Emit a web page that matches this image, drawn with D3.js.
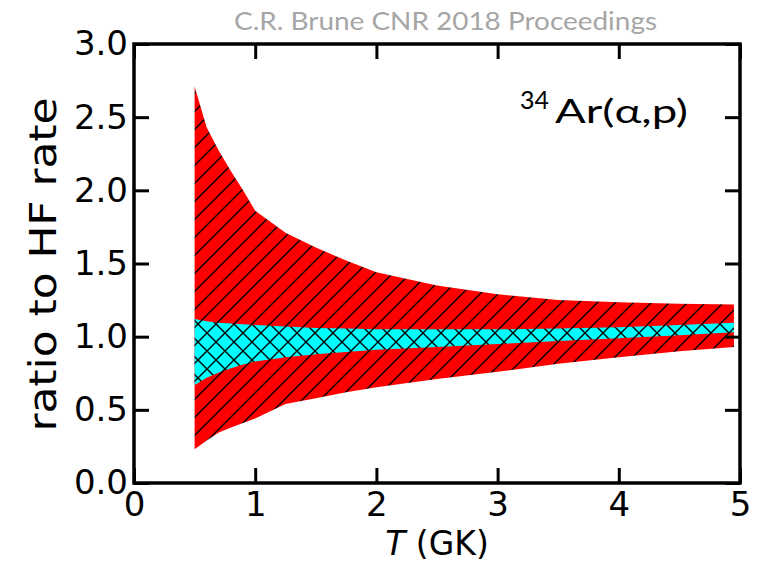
<!DOCTYPE html>
<html>
<head>
<meta charset="utf-8">
<script src="https://cdn.jsdelivr.net/npm/d3@7"></script>
<style>
  body { margin: 0; background: #fff; }
</style>
</head>
<body>
<div id="chart"></div>
<script>
// temperature grid (GK) and ratio bands
const temps     = [0.5, 0.6, 0.7, 0.8, 0.9, 1.0, 1.25, 1.5, 1.75, 2.0, 2.5, 3.0, 3.5, 4.0, 4.5, 4.95];
const redHigh   = [2.71, 2.43, 2.27, 2.13, 2.0, 1.86, 1.71, 1.61, 1.52, 1.44, 1.35, 1.29, 1.25, 1.235, 1.225, 1.22];
const redLow    = [0.23, 0.29, 0.345, 0.38, 0.41, 0.44, 0.54, 0.58, 0.62, 0.655, 0.71, 0.76, 0.815, 0.86, 0.90, 0.93];
const cyanHigh  = [1.12, 1.105, 1.095, 1.09, 1.085, 1.08, 1.07, 1.06, 1.055, 1.05, 1.05, 1.05, 1.055, 1.065, 1.08, 1.095];
const cyanLow   = [0.67, 0.72, 0.755, 0.785, 0.81, 0.83, 0.86, 0.88, 0.895, 0.91, 0.93, 0.95, 0.97, 0.99, 1.01, 1.03];
const xTicks = [0, 1, 2, 3, 4, 5];
const yTicks = [0, 0.5, 1.0, 1.5, 2.0, 2.5, 3.0];

const width = 770, height = 562;
const margin = { top: 44, right: 30, bottom: 79, left: 134 };

const svg = d3.select("#chart")
    .append("svg")
    .attr("width", width)
    .attr("height", height);

const x = d3.scaleLinear().domain([0, 5]).range([margin.left, width - margin.right]);
const y = d3.scaleLinear().domain([0, 3]).range([height - margin.bottom, margin.top]);

// hatch patterns, same grid so the lines line up
const defs = svg.append("defs");
const hs = 18;
const slash = `M-${hs/4},${hs/4} L${hs/4},-${hs/4} M0,${hs} L${hs},0 M${hs*0.75},${hs*1.25} L${hs*1.25},${hs*0.75}`;
const back  = `M-${hs/4},${hs*0.75} L${hs/4},${hs*1.25} M0,0 L${hs},${hs} M${hs*0.75},-${hs/4} L${hs*1.25},${hs/4}`;

const pRed = defs.append("pattern")
    .attr("id", "hatchRed")
    .attr("patternUnits", "userSpaceOnUse")
    .attr("width", hs).attr("height", hs);
pRed.append("rect").attr("width", hs).attr("height", hs).attr("fill", "#ff0000");
pRed.append("path").attr("d", slash).attr("stroke", "#000").attr("stroke-width", 1.4);

const pCyan = defs.append("pattern")
    .attr("id", "hatchCyan")
    .attr("patternUnits", "userSpaceOnUse")
    .attr("width", hs).attr("height", hs);
pCyan.append("rect").attr("width", hs).attr("height", hs).attr("fill", "#00ffff");
pCyan.append("path").attr("d", slash + " " + back).attr("stroke", "#000").attr("stroke-width", 1.4);

const redData = temps.map((t, i) => ({ t: t, lo: redLow[i], hi: redHigh[i] }));
const cyanData = temps.map((t, i) => ({ t: t, lo: cyanLow[i], hi: cyanHigh[i] }));

const area = d3.area()
    .x(d => x(d.t))
    .y0(d => y(d.lo))
    .y1(d => y(d.hi));

svg.append("path").datum(redData).attr("d", area).attr("fill", "url(#hatchRed)");
svg.append("path").datum(cyanData).attr("d", area).attr("fill", "url(#hatchCyan)");

// axes: ticks inside on all four sides
const tickFont = "DejaVu Sans, sans-serif";
function styleAxis(g) {
    g.select(".domain").remove();
    g.selectAll(".tick line").attr("stroke", "#000").attr("stroke-width", 3);
    g.selectAll(".tick text").attr("fill", "#000").style("font-family", tickFont).style("font-size", "34px");
}

svg.append("g")
    .attr("transform", `translate(0,${y(0)})`)
    .call(d3.axisBottom(x).tickValues(xTicks).tickFormat(d3.format("d")).tickSizeInner(-15).tickPadding(9))
    .call(styleAxis);
svg.append("g")
    .attr("transform", `translate(0,${y(3)})`)
    .call(d3.axisTop(x).tickValues(xTicks).tickFormat("").tickSizeInner(-15))
    .call(styleAxis);
svg.append("g")
    .attr("transform", `translate(${x(0)},0)`)
    .call(d3.axisLeft(y).tickValues(yTicks).tickFormat(d3.format(".1f")).tickSizeInner(-15).tickPadding(6))
    .call(styleAxis);
svg.append("g")
    .attr("transform", `translate(${x(5)},0)`)
    .call(d3.axisRight(y).tickValues(yTicks).tickFormat("").tickSizeInner(-15))
    .call(styleAxis);

// frame
svg.append("rect")
    .attr("x", x(0)).attr("y", y(3))
    .attr("width", x(5) - x(0)).attr("height", y(0) - y(3))
    .attr("fill", "none").attr("stroke", "#000").attr("stroke-width", 3.5);

// axis labels
const xl = svg.append("text")
    .attr("x", 437)
    .attr("y", 555)
    .attr("text-anchor", "middle")
    .style("font-family", tickFont)
    .style("font-size", "33px");
xl.append("tspan").style("font-style", "italic").text("T");
xl.append("tspan").text(" (GK)");

svg.append("text")
    .attr("transform", `translate(56,${(y(0) + y(3)) / 2 + 1}) rotate(-90)`)
    .attr("text-anchor", "middle")
    .style("font-family", tickFont)
    .style("font-size", "37px")
    .attr("textLength", 334)
    .attr("lengthAdjust", "spacingAndGlyphs")
    .text("ratio to HF rate");

// reaction label
svg.append("text")
    .attr("x", 520)
    .attr("y", 109)
    .style("font-family", "Lato, 'Open Sans', sans-serif")
    .style("font-size", "25px")
    .text("34");
svg.append("text")
    .attr("x", 555)
    .attr("y", 123)
    .style("font-family", "Lato, 'Open Sans', sans-serif")
    .style("font-size", "32px")
    .attr("textLength", 133)
    .attr("lengthAdjust", "spacingAndGlyphs")
    .text("Ar(α,p)");

// header
svg.append("text")
    .attr("x", 234)
    .attr("y", 30)
    .style("font-family", "Lato, 'Open Sans', sans-serif")
    .style("font-size", "25px")
    .attr("textLength", 423)
    .attr("lengthAdjust", "spacingAndGlyphs")
    .attr("fill", "#a6a6a6")
    .text("C.R. Brune CNR 2018 Proceedings");
</script>
</body>
</html>
